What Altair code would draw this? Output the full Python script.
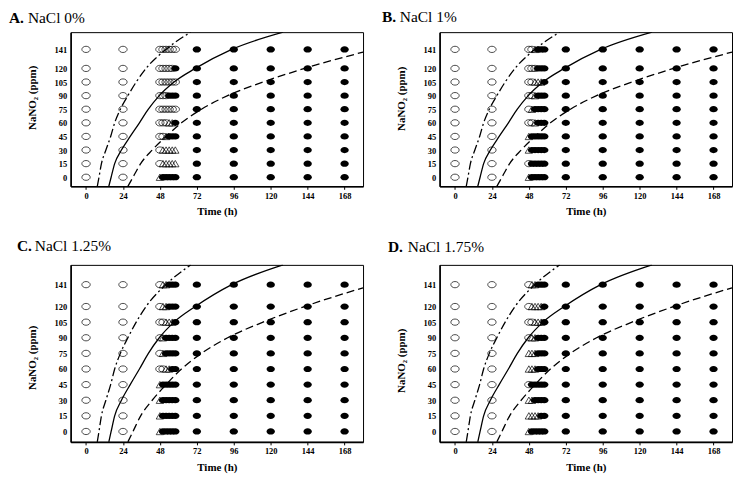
import altair as alt
import pandas as pd

# ---------------- data ----------------
levels = [0, 15, 30, 45, 60, 75, 90, 105, 120, 141]
times_early = [0, 24]
times_cluster = [48, 50, 52, 54, 56, 58]
times_late = [72, 96, 120, 144, 168]
x_ticks = [0, 24, 48, 72, 96, 120, 144, 168]

# cluster status per NaNO2 level (bottom -> top): O open circle, T open triangle, F filled circle
status_A = ["TFFFFF", "OTTTTT", "OTTTTT", "OOTFFF", "OOOTTF", "OOOOOO", "OOOFFF", "OOOOOO", "OOOOOF", "OOOOOO"]
status_B = ["TFFFFF", "OFFFFF", "TFFFFF", "TFFFFF", "OOTFFF", "OTFFFF", "OOTFFF", "OOTTTF", "OOOFFF", "OOTFFF"]
status_C = ["TFFFFF", "TFFFFF", "TFFFFF", "TFFFFF", "OOTTFF", "OTFFFF", "OTFFFF", "OOTTTF", "OTTFFF", "OTTFFF"]
status_D = ["TFFFFF", "TTTTFF", "TTFFFF", "OFFFFF", "TTTFFF", "TTTFFF", "OTTFFF", "OOTTTF", "OTTTTF", "OTTFFF"]
statuses = [status_A, status_B, status_C, status_D]

panel_letters = ["A.", "B.", "C.", "D."]
panel_salts = ["NaCl 0%", "NaCl 1%", "NaCl 1.25%", "NaCl 1.75%"]

# curves (time h, NaNO2 ppm)
dashdot_t = [7.3, 8.4, 10.0, 12.9, 16.0, 18.6, 22.3, 27.2, 32.6, 39.0, 51.9, 68.0]
dashdot_y = [-10, 0, 15, 30, 45, 60, 75, 90, 105, 120, 141, 160]
solid_t = [14.8, 16.3, 18.6, 23.0, 28.7, 34.7, 40.5, 47.6, 57.2, 71.0, 94.7, 128.0]
solid_y = [-10, 0, 15, 30, 45, 60, 75, 90, 105, 120, 141, 160]
dashed_t = [27.2, 30.5, 35.5, 43.0, 52.0, 62.0, 75.0, 92.0, 115.0, 142.0, 180.0]
dashed_y = [-10, 0, 15, 30, 45, 60, 75, 90, 105, 120, 138]

# ---------------- tables ----------------
pt_rows = []
for p, status in enumerate(statuses):
    for li, lev in enumerate(levels):
        for t in times_early:
            pt_rows.append({"panel": p, "t": t, "y": lev, "kind": "O"})
        for ci, t in enumerate(times_cluster):
            pt_rows.append({"panel": p, "t": t, "y": lev, "kind": status[li][ci]})
        for t in times_late:
            pt_rows.append({"panel": p, "t": t, "y": lev, "kind": "F"})
pts = pd.DataFrame(pt_rows)

dd_df = pd.DataFrame({"t": dashdot_t, "y": dashdot_y})
so_df = pd.DataFrame({"t": solid_t, "y": solid_y})
da_df = pd.DataFrame({"t": dashed_t, "y": dashed_y})

ELLIPSE = "M -1 0 A 1 0.75 0 1 0 1 0 A 1 0.75 0 1 0 -1 0 Z"
SERIF = "Liberation Serif"

# per-panel geometry (plot size, title offsets, y-title shift)
geom = [
    dict(w=294, h=155, lx=-62, sx=-43, ty=-9, yt=-12),
    dict(w=294, h=155, lx=-58, sx=-40, ty=-10, yt=-11),
    dict(w=294, h=178, lx=-54, sx=-36, ty=-14, yt=4),
    dict(w=294, h=178, lx=-52, sx=-32, ty=-13, yt=7),
]


def panel(p):
    g = geom[p]
    d = pts[pts.panel == p]
    xenc = alt.X("t:Q", scale=alt.Scale(domain=[-10, 180], nice=False, zero=False),
                 axis=alt.Axis(values=x_ticks, title="Time (h)", ticks=True, tickSize=3,
                               labelPadding=2, titlePadding=6, domainWidth=1.6,
                               labelOverlap=False))
    yenc = alt.Y("y:Q", scale=alt.Scale(domain=[-10, 160], nice=False, zero=False),
                 axis=alt.Axis(values=levels, title="NaNO₂ (ppm)", ticks=False, labelPadding=4,
                               domainWidth=1.6, titleX=-38, titleY=g["h"] / 2 + g["yt"],
                               titleAlign="center", titleBaseline="middle", titleAngle=270,
                               labelOverlap=False))
    base = alt.Chart(d).encode(x=xenc, y=yenc)
    open_c = base.transform_filter("datum.kind == 'O'").mark_point(
        shape=ELLIPSE, filled=False, color="black", strokeWidth=0.7, size=70, opacity=1)
    tri = base.transform_filter("datum.kind == 'T'").mark_point(
        shape="triangle-up", filled=False, color="black", strokeWidth=0.7, size=55, opacity=1)
    fill = base.transform_filter("datum.kind == 'F'").mark_point(
        shape=ELLIPSE, filled=True, color="black", size=70, opacity=1)

    def curve(df, dash):
        kw = dict(clip=True, color="black", strokeWidth=1.3, interpolate="monotone")
        if dash:
            kw["strokeDash"] = dash
        return alt.Chart(df).mark_line(**kw).encode(x=xenc, y=yenc)

    l1 = curve(dd_df, [9, 3, 2, 3])
    l2 = curve(so_df, None)
    l3 = curve(da_df, [8, 4])

    one = pd.DataFrame({"k": [0]})
    letter = alt.Chart(one).mark_text(
        text=panel_letters[p], align="left", baseline="alphabetic", font=SERIF,
        fontSize=15.5, fontWeight="bold", color="black").encode(
        x=alt.value(g["lx"]), y=alt.value(g["ty"]))
    salt = alt.Chart(one).mark_text(
        text=panel_salts[p], align="left", baseline="alphabetic", font=SERIF,
        fontSize=15.5, color="black").encode(
        x=alt.value(g["sx"]), y=alt.value(g["ty"]))

    return alt.layer(open_c, tri, fill, l1, l2, l3, letter, salt).properties(
        width=g["w"], height=g["h"])


chart = alt.concat(panel(0), panel(1), panel(2), panel(3), columns=2,
                   spacing={"row": 79, "column": 77}, bounds="flush").properties(
    padding=0
).configure_axis(
    grid=False, labelFont=SERIF, labelFontWeight="bold", labelFontSize=8.5,
    titleFont=SERIF, titleFontWeight="bold", titleFontSize=11,
    domainColor="black", tickColor="black", labelColor="black", titleColor="black"
).configure_view(stroke="black", strokeWidth=1)

chart.save("out.html", embed_options={"renderer": "svg", "actions": False})
